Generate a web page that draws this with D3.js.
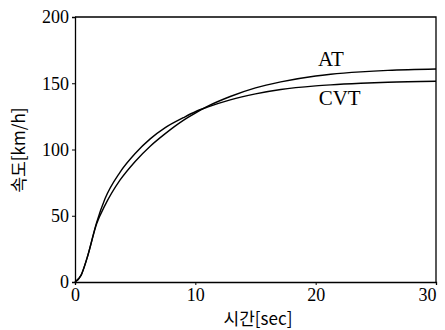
<!DOCTYPE html>
<html>
<head>
<meta charset="utf-8">
<script src="https://cdn.jsdelivr.net/npm/d3@7/dist/d3.min.js"></script>
<style>
  html, body { margin: 0; padding: 0; background: #fff; }
  svg { display: block; }
</style>
</head>
<body>
<svg id="chart" width="445" height="330"></svg>
<script>
// Time axis samples (seconds)
const timeSec = [0, 0.5, 1, 1.8, 2.5, 3.75, 5, 6.25, 7.5, 9, 10, 11, 12.9, 15, 17.1, 20, 21.25, 23.75, 26, 30];
// Vehicle speed, automatic transmission (km/h)
const speedAT = [0, 5, 18, 44, 58, 77, 91, 102.5, 112, 122, 127.5, 132.5, 140, 146.5, 151, 155.5, 156.8, 158.6, 159.7, 160.7];
// Vehicle speed, continuously variable transmission (km/h)
const speedCVT = [0, 5, 18, 45, 63, 83, 97, 108, 116.5, 124, 128.5, 132, 137.5, 142, 145.3, 148, 148.8, 150, 150.8, 151.5];
// Tick labels
const xTicks = [0, 10, 20, 30];
const yTicks = [0, 50, 100, 150, 200];
const seriesNames = ["AT", "CVT"];

const svg = d3.select("#chart");
const plotL = 75, plotR = 436, plotT = 17, plotB = 282;

const x = d3.scaleLinear().domain([0, 30]).range([plotL, plotR]);
const y = d3.scaleLinear().domain([0, 200]).range([plotB, plotT]);

const serif = '"Liberation Serif", "DejaVu Serif", serif';
const sans = '"Noto Sans CJK KR", "Noto Sans", sans-serif';

// Frame: top and right edges
svg.append("path")
  .attr("d", `M${plotL},${plotT}H${plotR}V${plotB}`)
  .attr("fill", "none").attr("stroke", "#000").attr("stroke-width", 1.3);

// Left axis
const yAxis = svg.append("g")
  .attr("transform", `translate(${plotL},0)`)
  .call(d3.axisLeft(y).tickValues(yTicks).tickSize(3).tickPadding(3).tickFormat(d3.format("d")));
// Bottom axis
const xAxis = svg.append("g")
  .attr("transform", `translate(0,${plotB})`)
  .call(d3.axisBottom(x).tickValues(xTicks).tickSize(3).tickPadding(3).tickFormat(d3.format("d")));

[yAxis, xAxis].forEach(g => {
  g.select(".domain").attr("stroke", "#000").attr("stroke-width", 1.3);
  g.selectAll(".tick line").attr("stroke", "#000").attr("stroke-width", 1);
  g.selectAll(".tick text").attr("fill", "#000").style("font-size", "18px").style("font-family", serif);
});
// keep the last x label inside the frame
xAxis.selectAll(".tick text").filter(d => d === 30).attr("dx", -9);

// Speed curves
const line = d3.line().x(d => x(d[0])).y(d => y(d[1])).curve(d3.curveMonotoneX);
[speedAT, speedCVT].forEach(vals => {
  svg.append("path")
    .datum(timeSec.map((t, i) => [t, vals[i]]))
    .attr("d", line)
    .attr("fill", "none").attr("stroke", "#000").attr("stroke-width", 1.4);
});

// Curve labels
svg.append("text").attr("x", x(20.2)).attr("y", y(163)).text(seriesNames[0])
  .style("font-family", serif).style("font-size", "21px").attr("fill", "#000");
svg.append("text").attr("x", x(20.25)).attr("y", y(133.5)).text(seriesNames[1])
  .style("font-family", serif).style("font-size", "21px").attr("fill", "#000");

// Axis titles
svg.append("text").attr("x", 258).attr("y", 325).attr("text-anchor", "middle")
  .text("시간[sec]").style("font-family", sans).style("font-size", "17px").attr("fill", "#000");
svg.append("text").attr("transform", "translate(25,150) rotate(-90)").attr("text-anchor", "middle")
  .text("속도[km/h]").style("font-family", sans).style("font-size", "17px").attr("fill", "#000");
</script>
</body>
</html>
